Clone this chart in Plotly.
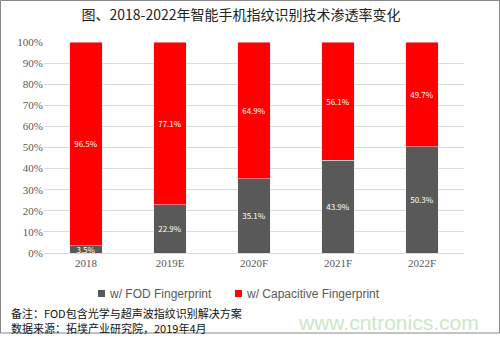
import plotly.graph_objects as go

categories = ["2018", "2019E", "2020F", "2021F", "2022F"]
fod = [3.5, 22.9, 35.1, 43.9, 50.3]
capacitive = [96.5, 77.1, 64.9, 56.1, 49.7]
tick_vals = [0, 10, 20, 30, 40, 50, 60, 70, 80, 90, 100]
tick_text = [f"{v}%" for v in tick_vals]
series_names = ["w/ FOD Fingerprint", "w/ Capacitive Fingerprint"]

GRAY = "#595959"
RED = "#FF0000"
FONT = "Noto Sans CJK SC"
SERIF = "Liberation Serif"

L, R, T, B = 44, 36, 42, 85
PW, PH = 500 - L - R, 338 - T - B


def px(x):
    return (x - L) / PW


def py(y):
    return (338 - B - y) / PH


fig = go.Figure()
for vals, name, color in [(fod, series_names[0], GRAY), (capacitive, series_names[1], RED)]:
    fig.add_bar(x=categories, y=vals, name=name, marker_color=color,
                text=[f"{v:.1f}%" for v in vals], textposition="inside",
                insidetextanchor="middle",
                textfont=dict(color="white", size=8, family=FONT),
                width=0.39, showlegend=False)

shapes = [dict(type="rect", xref="paper", yref="paper", x0=px(0.5), x1=px(499.5),
               y0=py(333), y1=py(0.5), line=dict(color="#888888", width=1))]
annotations = []
# manual legend
legend_items = [(98, GRAY, series_names[0]), (235, RED, series_names[1])]
for x0, color, name in legend_items:
    shapes.append(dict(type="rect", xref="paper", yref="paper", x0=px(x0), x1=px(x0 + 7),
                       y0=py(297), y1=py(290), fillcolor=color, line=dict(width=0)))
    annotations.append(dict(text=name, xref="paper", yref="paper", x=px(x0 + 9), y=py(293.5),
                            xanchor="left", yanchor="middle", showarrow=False,
                            font=dict(size=12, color=GRAY, family="Liberation Sans")))

annotations += [
    dict(text="备注：FOD包含光学与超声波指纹识别解决方案", xref="paper", yref="paper",
         x=px(9), y=py(313), xanchor="left", yanchor="middle", showarrow=False,
         font=dict(size=11, color="#111111", family=FONT)),
    dict(text="数据来源：拓墣产业研究院，2019年4月", xref="paper", yref="paper",
         x=px(9), y=py(328), xanchor="left", yanchor="middle", showarrow=False,
         font=dict(size=11, color="#111111", family=FONT)),
    dict(text="www.cntronics.com", xref="paper", yref="paper",
         x=px(481), y=py(322), xanchor="right", yanchor="middle", showarrow=False,
         font=dict(size=21, color="#cde6c5", family="Liberation Sans")),
]

fig.update_layout(
    barmode="stack",
    width=500, height=338,
    margin=dict(l=L, r=R, t=T, b=B),
    paper_bgcolor="white", plot_bgcolor="white",
    font=dict(family=FONT, color=GRAY, size=10),
    uniformtext=dict(minsize=7, mode="show"),
    showlegend=False,
    title=dict(text="图、2018-2022年智能手机指纹识别技术渗透率变化", x=241 / 500, xanchor="center",
               y=1 - 15 / 338, yanchor="middle", xref="paper" if False else "container",
               font=dict(size=14, color="#222222", family=FONT)),
    xaxis=dict(showgrid=False, showline=True, linecolor="#d9d9d9", ticks="",
               tickfont=dict(size=11, color=GRAY, family=SERIF)),
    yaxis=dict(range=[0, 100], tickvals=tick_vals, ticktext=tick_text, showgrid=True,
               gridcolor="#d9d9d9", zeroline=False, ticks="",
               tickfont=dict(size=11, color=GRAY, family=SERIF)),
    shapes=shapes,
    annotations=annotations,
)

fig.write_html("out.html")
